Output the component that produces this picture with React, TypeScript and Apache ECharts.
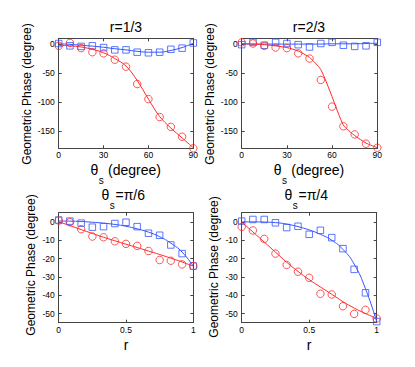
import React, { useEffect, useRef } from "react";
import * as echarts from "echarts";

const thetaS = [0, 7.5, 15, 22.5, 30, 37.5, 45, 52.5, 60, 67.5, 75, 82.5, 90];
const rValues = [0, 0.083, 0.167, 0.25, 0.333, 0.417, 0.5, 0.583, 0.667, 0.75, 0.833, 0.917, 1];

// Panel 1: r = 1/3
const p1RedPts = [-3, 2, -7, -14, -16, -27, -39, -69, -95, -126, -143, -160, -180];
const p1BluePts = [1, -3, -4, -3, -6, -10, -10, -14, -15, -14, -9, -7, 2];
const p1RedFit = [-2, -3, -5, -9, -15, -25, -38, -63, -95, -125, -145, -162, -179];
const p1BlueFit = [0.5, -0.5, -2, -3.5, -5.5, -8, -10, -12.5, -14, -14, -11, -6, 1.5];

// Panel 2: r = 2/3
const p2RedPts = [3, 1, -3, -6, -7, -16, -25, -62, -108, -142, -156, -172, -179];
const p2BluePts = [-1, 3, -2, 3, 1, -1, -5, 1, 3, -2, -4, -3, 3];
const p2RedFit = [1, 0, -1, -3, -6, -12, -23, -44, -91, -140, -158, -171, -179];
const p2BlueFit = [0, 0, 0, 0, 0, 0, 0, 0, 0.5, 0.5, 0.5, 1, 1.5];

// Panel 3: theta_s = pi/6
const p3RedPts = [0.7, -0.2, -4, -8, -8.4, -10.6, -12, -13.1, -15.9, -20.8, -21.2, -23.2, -24.1];
const p3BluePts = [1, 0.4, -0.7, -2.9, -2.6, -0.9, -0.2, -2.6, -6.2, -7.3, -12.6, -17.3, -24.1];
const p3RedFit = [0, -2, -4.2, -6.3, -8.4, -10.3, -12.2, -14, -15.9, -17.8, -19.8, -21.9, -24.2];
const p3BlueFit = [0.5, 0.4, 0.2, -0.2, -0.7, -1.4, -2.4, -3.8, -5.6, -8.1, -11.6, -16.5, -24.2];

// Panel 4: theta_s = pi/4
const p4RedPts = [-2.7, -4.7, -9.3, -17.3, -23.5, -27.2, -30.5, -39.2, -39.6, -46, -50.2, -48, -52.7];
const p4BluePts = [0.4, 1.3, 1.3, -0.5, -3.1, -2.4, -6.8, -4.6, -8.6, -14.6, -25.9, -38.7, -54.4];
const p4RedFit = [0, -5.5, -11, -16.5, -22, -27, -31.5, -35.5, -39.5, -43.5, -47, -50, -52.7];
const p4BlueFit = [0, 0, -0.1, -0.4, -1.2, -2.6, -4.4, -6.8, -10, -15, -23, -36.5, -54.4];

const thetaTicks = [0, 30, 60, 90];
const rTicks = [0, 0.5, 1];
const phaseTicksLarge = [-150, -100, -50, 0];
const phaseTicksSmall = [-50, -40, -30, -20, -10, 0];

const RED = "#ff2a2a";
const BLUE = "#3355ff";
const BOX = "#444";
const FONT = "Liberation Sans, Arial, sans-serif";

const zip = (xs: number[], ys: number[]) => xs.map((x, i) => [x, ys[i]]);

export default function App() {
  const ref = useRef<HTMLDivElement>(null);
  useEffect(() => {
    if (!ref.current) return;
    const chart = echarts.init(ref.current, undefined, { renderer: "svg" });

    const panels = [
      { grid: { left: 58.7, top: 38.3, width: 134.6, height: 110 }, xs: thetaS, xMin: 0, xMax: 90, xTicks: thetaTicks, yMin: -180, yMax: 10, yTicks: phaseTicksLarge, red: p1RedPts, blue: p1BluePts, redFit: p1RedFit, blueFit: p1BlueFit, smooth: 0.4 },
      { grid: { left: 241.7, top: 38.3, width: 135.6, height: 110 }, xs: thetaS, xMin: 0, xMax: 90, xTicks: thetaTicks, yMin: -180, yMax: 10, yTicks: phaseTicksLarge, red: p2RedPts, blue: p2BluePts, redFit: p2RedFit, blueFit: p2BlueFit, smooth: 0.2 },
      { grid: { left: 58.7, top: 212.7, width: 134.6, height: 110 }, xs: rValues, xMin: 0, xMax: 1, xTicks: rTicks, yMin: -55, yMax: 5, yTicks: phaseTicksSmall, red: p3RedPts, blue: p3BluePts, redFit: p3RedFit, blueFit: p3BlueFit, smooth: 0.5 },
      { grid: { left: 241.7, top: 212.7, width: 135, height: 110 }, xs: rValues, xMin: 0, xMax: 1, xTicks: rTicks, yMin: -55, yMax: 5, yTicks: phaseTicksSmall, red: p4RedPts, blue: p4BluePts, redFit: p4RedFit, blueFit: p4BlueFit, smooth: 0.5 },
    ];

    const grids: any[] = [];
    const xAxes: any[] = [];
    const yAxes: any[] = [];
    const series: any[] = [];

    panels.forEach((p, i) => {
      grids.push({ ...p.grid, containLabel: false });
      const axLine = { show: true, onZero: false, lineStyle: { color: BOX, width: 1 } };
      const tick = (vals: number[]) => ({ show: true, inside: true, length: 3, customValues: vals, lineStyle: { color: BOX } });
      xAxes.push({
        type: "value", gridIndex: i, position: "bottom", min: p.xMin, max: p.xMax,
        axisLine: axLine, axisTick: tick(p.xTicks), splitLine: { show: false },
        axisLabel: { customValues: p.xTicks, fontSize: 8.5, color: "#000", margin: 2.5, fontFamily: FONT },
      });
      xAxes.push({
        type: "value", gridIndex: i, position: "top", min: p.xMin, max: p.xMax,
        axisLine: axLine, axisTick: tick(p.xTicks), splitLine: { show: false }, axisLabel: { show: false },
      });
      yAxes.push({
        type: "value", gridIndex: i, position: "left", min: p.yMin, max: p.yMax,
        axisLine: axLine, axisTick: tick(p.yTicks), splitLine: { show: false },
        axisLabel: { customValues: p.yTicks, fontSize: 8.5, color: "#000", margin: 4, fontFamily: FONT },
      });
      yAxes.push({
        type: "value", gridIndex: i, position: "right", min: p.yMin, max: p.yMax,
        axisLine: axLine, axisTick: tick(p.yTicks), splitLine: { show: false }, axisLabel: { show: false },
      });
      const xi = 2 * i;
      const yi = 2 * i;
      series.push({
        type: "line", xAxisIndex: xi, yAxisIndex: yi, data: zip(p.xs, p.blueFit), smooth: p.smooth,
        symbol: "none", lineStyle: { color: BLUE, width: 1 }, z: 2,
      });
      series.push({
        type: "line", xAxisIndex: xi, yAxisIndex: yi, data: zip(p.xs, p.redFit), smooth: p.smooth,
        symbol: "none", lineStyle: { color: RED, width: 1 }, z: 2,
      });
      series.push({
        type: "scatter", xAxisIndex: xi, yAxisIndex: yi, data: zip(p.xs, p.blue), symbol: "rect", symbolSize: 6.5,
        itemStyle: { color: "transparent", borderColor: BLUE, borderWidth: 1 }, z: 3,
      });
      series.push({
        type: "scatter", xAxisIndex: xi, yAxisIndex: yi, data: zip(p.xs, p.red), symbol: "circle", symbolSize: 7.5,
        itemStyle: { color: "transparent", borderColor: RED, borderWidth: 1 }, z: 3,
      });
    });

    const txt = (text: string, x: number, y: number, size: number, extra: any = {}) => ({
      type: "text", x, y, ...extra,
      style: { text, fontSize: size, fontFamily: FONT, fill: "#000", textAlign: "left", textVerticalAlign: "middle", ...(extra.style || {}) },
    });

    const graphics: any[] = [];
    graphics.push(txt("r=1/3", 126, 26.5, 14, { style: { textAlign: "center" } }));
    graphics.push(txt("r=2/3", 309, 26.5, 14, { style: { textAlign: "center" } }));
    const thetaTitle = (x0: number, frac: string) => {
      graphics.push(txt("θ", x0, 194.5, 14));
      graphics.push(txt("s", x0 + 8.3, 205, 10));
      graphics.push(txt(frac, x0 + 14, 194.5, 14));
    };
    thetaTitle(101.5, "=π/6");
    thetaTitle(284.5, "=π/4");
    const thetaLabel = (x0: number) => {
      graphics.push(txt("θ", x0, 169.5, 14));
      graphics.push(txt("s", x0 + 8.3, 180, 10));
      graphics.push(txt("(degree)", x0 + 17.5, 169.5, 14));
    };
    thetaLabel(90.5);
    thetaLabel(273.8);
    graphics.push(txt("r", 126, 345, 14, { style: { textAlign: "center" } }));
    graphics.push(txt("r", 309, 345, 14, { style: { textAlign: "center" } }));
    const yl = (x: number, y: number) =>
      graphics.push(txt("Geometric Phase (degree)", x, y, 12, { rotation: Math.PI / 2, style: { textAlign: "center" } }));
    yl(27, 94);
    yl(210, 94);
    yl(30.5, 265);
    yl(214, 267);

    chart.setOption({
      animation: false,
      backgroundColor: "#fff",
      grid: grids,
      xAxis: xAxes,
      yAxis: yAxes,
      series,
      graphic: graphics,
    });
    return () => chart.dispose();
  }, []);
  return <div ref={ref} style={{ position: "absolute", left: 0, top: 0, width: 415, height: 367 }} />;
}
